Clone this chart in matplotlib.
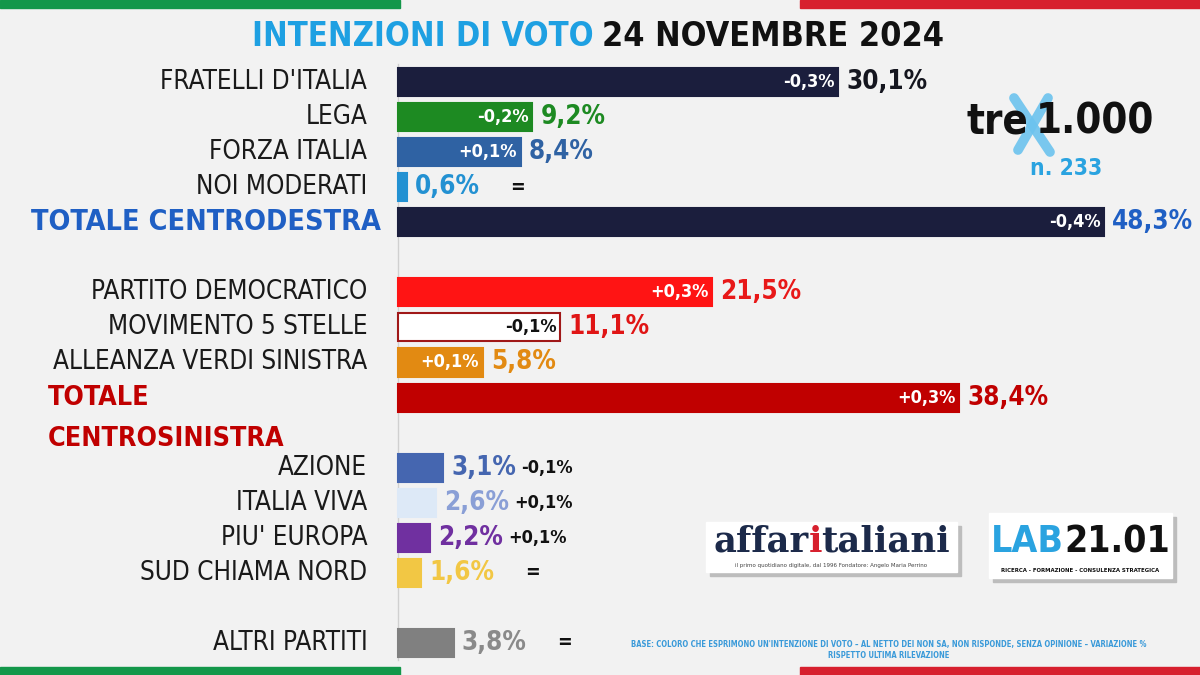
import numpy as np
import matplotlib.pyplot as plt
from matplotlib.patches import Rectangle
from matplotlib.lines import Line2D
from matplotlib import font_manager as fm

# voting intentions, trex1.000 n. 233 - 24 novembre 2024
parties = ["FRATELLI D'ITALIA", "LEGA", "FORZA ITALIA", "NOI MODERATI", "TOTALE CENTRODESTRA",
           "PARTITO DEMOCRATICO", "MOVIMENTO 5 STELLE", "ALLEANZA VERDI SINISTRA", "TOTALE\nCENTROSINISTRA",
           "AZIONE", "ITALIA VIVA", "PIU' EUROPA", "SUD CHIAMA NORD", "ALTRI PARTITI"]
values = [30.1, 9.2, 8.4, 0.6, 48.3, 21.5, 11.1, 5.8, 38.4, 3.1, 2.6, 2.2, 1.6, 3.8]
changes = ['-0,3%', '-0,2%', '+0,1%', '=', '-0,4%', '+0,3%', '-0,1%', '+0,1%', '+0,3%',
           '-0,1%', '+0,1%', '+0,1%', '=', '=']
rows = [0, 1, 2, 3, 4, 6, 7, 8, 9, 11, 12, 13, 14, 16]

bar_colors = ['#1b1e3d', '#1d8a22', '#2f62a3', '#2391d2', '#1b1e3d',
              '#ff1414', '#ffffff', '#e28a12', '#c00000',
              '#4566b0', '#dde9f7', '#7030a0', '#f2c744', '#808080']
val_colors = ['#15161f', '#1d8a22', '#2f62a3', '#2391d2', '#1f5fc4',
              '#e81818', '#e01515', '#e28a12', '#c00000',
              '#4566b0', '#8a9fd6', '#7030a0', '#f2c744', '#8a8a8a']

# look for a narrow face, else Liberation Sans (Arial metrics)
cond = [f for f in fm.fontManager.ttflist
        if 'Narrow' in f.name or 'Condensed' in f.name or str(f.stretch) in ('condensed', 'semi-condensed')]
if cond:
    FAM, STRETCH, SCALE = cond[0].name, cond[0].stretch, 1.0
else:
    FAM, STRETCH, SCALE = 'Liberation Sans', 'normal', 0.83
TXT = dict(family=[FAM, 'DejaVu Sans'], fontstretch=STRETCH)
BG = '#f2f2f2'

fig = plt.figure(figsize=(12, 6.75), dpi=100, facecolor=BG)
ax = fig.add_axes([0, 0, 1, 1])
ax.set_facecolor(BG)
# 1 unit = 1 percentage point, rows 35 px apart
ax.set_xlim(-27.22, 54.86)
ax.set_ylim(16.914, -2.339)
ax.axis('off')
renderer = fig.canvas.get_renderer()

ax.plot([0, 0], [-0.5, 16.5], color='#d0d0d0', lw=1, zorder=1)

edges = ['#a01818' if c == '#ffffff' else c for c in bar_colors]
ax.barh(rows, values, height=0.8, color=bar_colors, edgecolor=edges, linewidth=1.5, zorder=2)

for i, (name, v, ch, r) in enumerate(zip(parties, values, changes, rows)):
    # party names
    if name == "TOTALE CENTRODESTRA":
        ax.text(-1.2, r, name, ha='right', va='center', fontsize=20.6 * SCALE, fontweight='bold',
                color='#1f5fc4', **TXT)
    elif name.startswith("TOTALE"):
        for k, line in enumerate(name.split('\n')):
            ax.text(-23.95, r + 1.18 * k, line, ha='left', va='center', fontsize=19.3 * SCALE,
                    fontweight='bold', color='#c00000', **TXT)
    else:
        ax.text(-2.1, r, name, ha='right', va='center', fontsize=18.7 * SCALE,
                color='#1a1a1a', **TXT)
    # value label
    t = ax.text(v + 0.55, r, f"{v:.1f}%".replace('.', ','), ha='left', va='center',
                fontsize=18.7 * SCALE, fontweight='bold', color=val_colors[i], **TXT)
    # change vs previous poll
    if v > 5:
        col = '#111111' if bar_colors[i] == '#ffffff' else 'white'
        ax.text(v - 0.25, r, ch, ha='right', va='center', fontsize=13 * SCALE, fontweight='bold',
                color=col, **TXT)
    elif ch == '=':
        ax.text(v + 7.6, r, ch, ha='center', va='center', fontsize=14 * SCALE, fontweight='bold',
                color='#111111', **TXT)
    else:
        bb = t.get_window_extent(renderer)
        x_end = ax.transData.inverted().transform((bb.x1 + 5, 0))[0]
        ax.text(x_end, r, ch, ha='left', va='center', fontsize=13 * SCALE, fontweight='bold',
                color='#111111', **TXT)

# title
fig.text(594 / 1200, 1 - 37 / 675, "INTENZIONI DI VOTO", ha='right', va='center', fontsize=23.5 * SCALE,
         fontweight='bold', color='#1ea0e2', **TXT)
fig.text(602 / 1200, 1 - 37 / 675, "24 NOVEMBRE 2024", ha='left', va='center', fontsize=24.5 * SCALE,
         fontweight='bold', color='#111111', **TXT)

# tricolore stripes
for y0 in (667, 0):
    fig.patches.append(Rectangle((0, 1 - (y0 + 8) / 675), 400 / 1200, 8 / 675,
                                 transform=fig.transFigure, color='#13974a', zorder=0))
    fig.patches.append(Rectangle((800 / 1200, 1 - (y0 + 8) / 675), 400 / 1200, 8 / 675,
                                 transform=fig.transFigure, color='#d7202e', zorder=0))

# trex1.000 logo
for (x0, y0, x1, y1) in [(1014, 98, 1050, 152), (1048, 98, 1018, 150)]:
    fig.lines.append(Line2D([x0 / 1200, x1 / 1200], [1 - y0 / 675, 1 - y1 / 675], transform=fig.transFigure,
                            color='#6cc3ee', lw=7, alpha=0.9, solid_capstyle='round', zorder=3))
fig.text(1028 / 1200, 1 - 122 / 675, "tre", ha='right', va='center', fontsize=30 * SCALE,
         fontweight='bold', color='#111111', zorder=4, **TXT)
fig.text(1036 / 1200, 1 - 122 / 675, "1.000", ha='left', va='center', fontsize=30 * SCALE,
         fontweight='bold', color='#111111', zorder=4, **TXT)
fig.text(1066 / 1200, 1 - 168 / 675, "n. 233", ha='center', va='center', fontsize=16.3 * SCALE,
         fontweight='bold', color='#2aa3e0', **TXT)

# affaritaliani box
fig.patches.append(Rectangle((710 / 1200, 1 - 576 / 675), 251 / 1200, 50 / 675,
                             transform=fig.transFigure, color='#bdbdbd', zorder=1))
fig.patches.append(Rectangle((706 / 1200, 1 - 572 / 675), 251 / 1200, 50 / 675,
                             transform=fig.transFigure, color='white', zorder=2))
logo = dict(va='center', fontsize=25.5, fontweight='bold', family='DejaVu Serif', zorder=3)
fig.text(809 / 1200, 1 - 542 / 675, "affar", ha='right', color='#1c2a4a', **logo)
fig.text(815 / 1200, 1 - 542 / 675, "i", ha='center', color='#d7202e', **logo)
fig.text(821 / 1200, 1 - 542 / 675, "taliani", ha='left', color='#1c2a4a', **logo)
fig.text(831 / 1200, 1 - 565 / 675, "il primo quotidiano digitale, dal 1996 Fondatore: Angelo Maria Perrino",
         ha='center', va='center', fontsize=4, color='#444444', zorder=3)

# LAB21.01 box
fig.patches.append(Rectangle((993 / 1200, 1 - 582 / 675), 183 / 1200, 65 / 675,
                             transform=fig.transFigure, color='#bdbdbd', zorder=1))
fig.patches.append(Rectangle((989 / 1200, 1 - 578 / 675), 183 / 1200, 65 / 675,
                             transform=fig.transFigure, color='white', zorder=2))
fig.text(1064 / 1200, 1 - 542 / 675, "LAB", ha='right', va='center', fontsize=26.8 * SCALE,
         fontweight='bold', color='#2aa3e0', zorder=3, **TXT)
fig.text(1064 / 1200, 1 - 542 / 675, "21.01", ha='left', va='center', fontsize=26.8 * SCALE,
         fontweight='bold', color='#111111', zorder=3, **TXT)
fig.text(1080 / 1200, 1 - 570 / 675, "RICERCA - FORMAZIONE - CONSULENZA STRATEGICA", ha='center',
         va='center', fontsize=4.3, fontweight='bold', color='#111111', zorder=3, **TXT)

# footnote
fig.text(889 / 1200, 1 - 645 / 675,
         "BASE: COLORO CHE ESPRIMONO UN'INTENZIONE DI VOTO – AL NETTO DEI NON SA, NON RISPONDE, SENZA OPINIONE – VARIAZIONE %",
         ha='center', va='center', fontsize=5.5, fontweight='bold', color='#3a9ad9', **TXT)
fig.text(889 / 1200, 1 - 656 / 675, "RISPETTO ULTIMA RILEVAZIONE",
         ha='center', va='center', fontsize=5.5, fontweight='bold', color='#3a9ad9', **TXT)

fig.savefig('out.png', dpi=100, facecolor=BG)
